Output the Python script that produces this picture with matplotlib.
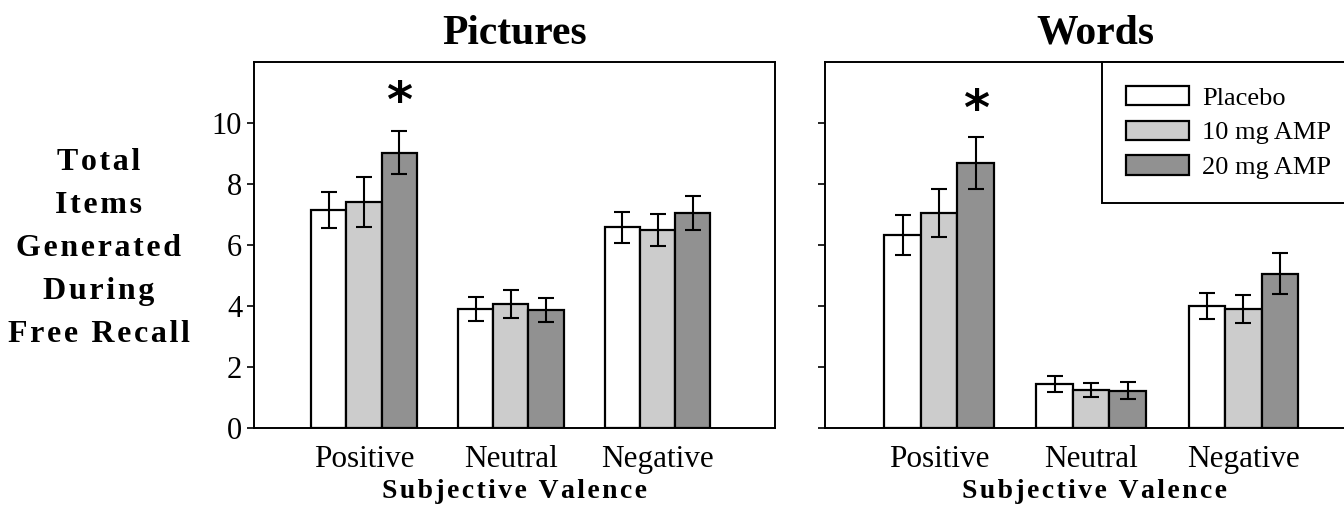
import numpy as np
import matplotlib.pyplot as plt
from matplotlib.patches import Patch

# data
valence = ['Positive', 'Neutral', 'Negative']
groups = ['Placebo', '10 mg AMP', '20 mg AMP']
colors = ['#ffffff', '#cccccc', '#919191']

pic_means = [[7.15, 3.90, 6.58],
             [7.41, 4.07, 6.50],
             [9.03, 3.87, 7.05]]
pic_err = [[0.59, 0.39, 0.50],
           [0.81, 0.46, 0.53],
           [0.71, 0.38, 0.57]]

word_means = [[6.33, 1.45, 4.00],
              [7.05, 1.26, 3.90],
              [8.69, 1.22, 5.06]]
word_err = [[0.66, 0.26, 0.42],
            [0.80, 0.23, 0.47],
            [0.85, 0.28, 0.68]]

plt.rcParams['font.family'] = 'Liberation Serif'


def spaced(s):
    # crude letter spacing with hair spaces
    return '\u200a'.join(s)


fig = plt.figure(figsize=(13.44, 5.14), dpi=100)
ax1 = fig.add_axes([254 / 1344, 86 / 514, 521 / 1344, 366 / 514])
ax2 = fig.add_axes([825 / 1344, 86 / 514, 540 / 1344, 366 / 514])

x = np.arange(len(valence))
w = 0.24


def draw_panel(ax, means, errs, title, star_y):
    for i in range(3):
        ax.bar(x + (i - 1) * w, means[i], w, yerr=errs[i], color=colors[i],
               edgecolor='black', linewidth=1.6, label=groups[i],
               error_kw=dict(ecolor='black', elinewidth=1.5, capsize=5.5, capthick=1.5))
    ax.text(x[0] + w, star_y, '*', ha='center', va='center',
            fontsize=36, fontweight='bold', family='DejaVu Sans')
    ax.set_xlim(-0.75, 2.8)
    ax.set_ylim(0, 12)
    ax.set_yticks([0, 2, 4, 6, 8, 10])
    ax.set_xticks(x)
    ax.set_xticklabels(valence, fontsize=22.5)
    ax.tick_params(axis='x', length=0, pad=12)
    ax.tick_params(axis='y', labelsize=22, length=5, width=1.2, direction='out')
    for s in ax.spines.values():
        s.set_linewidth(1.4)
    ax.set_xlabel(spaced('Subjective Valence'), fontsize=20, fontweight='bold', labelpad=4)
    ax.set_title(title, fontsize=30, fontweight='bold', pad=13)


draw_panel(ax1, pic_means, pic_err, 'Pictures', 10.65)
draw_panel(ax2, word_means, word_err, 'Words', 10.38)
ax2.set_yticklabels([])

ylab = '\n'.join(spaced(t) for t in ['Total', 'Items', 'Generated', 'During', 'Free Recall'])
ax1.set_ylabel(ylab, fontsize=23, fontweight='bold', rotation=0, ha='center',
               va='center', linespacing=1.63)
ax1.yaxis.set_label_coords(-0.298, 0.49)

handles = [Patch(facecolor=c, edgecolor='black', linewidth=1.6) for c in colors]
leg = ax2.legend(handles, groups, loc='upper left', fontsize=19,
                 bbox_to_anchor=(1102 / 1344, 1 - 62 / 514),
                 bbox_transform=fig.transFigure, borderaxespad=0,
                 handlelength=2.4, handleheight=0.76, handletextpad=0.5,
                 borderpad=0.9, labelspacing=0.41, fancybox=False, framealpha=1)
leg.get_frame().set_edgecolor('black')
leg.get_frame().set_linewidth(1.4)

fig.savefig('out.png', dpi=100)
